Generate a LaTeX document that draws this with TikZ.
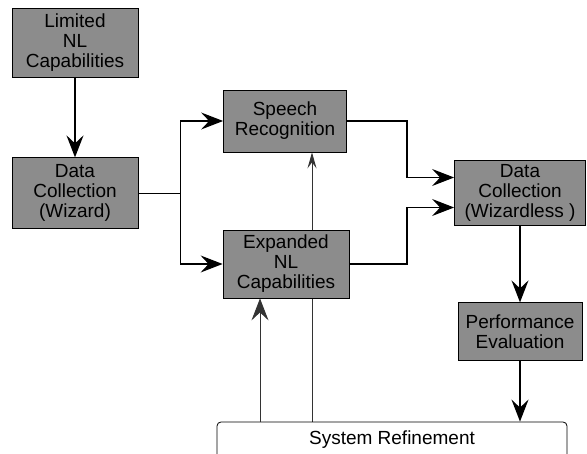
\documentclass[tikz,border=0pt]{standalone}
\usepackage{fontspec}
\setmainfont{Liberation Sans}
\usetikzlibrary{positioning,arrows.meta,backgrounds}

\begin{document}
\begin{tikzpicture}[x=1pt, y=-1pt, node distance=80pt,
  >={Stealth[length=22pt,width=17pt,inset=8pt]},
  block/.style={draw, rectangle, fill=black!45, align=center, inner sep=1pt, line width=0.8pt, font=\fontsize{19}{20}\selectfont},
  flow/.style={->, line width=1.2pt}]
\useasboundingbox (0,0) rectangle (587,454);
\clip (0,0) rectangle (587,454);

\node[block, minimum width=126pt, minimum height=69pt] (limited) at (75,42.5) {Limited\\NL\\Capabilities};
\node[block, minimum width=126pt, minimum height=71pt, below=of limited] (wizard) {Data\\Collection\\(Wizard)};
\node[block, minimum width=123pt, minimum height=62pt] (speech) at (285,121) {Speech\\Recognition};
\node[block, minimum width=126pt, minimum height=68pt] (expanded) at (286,264) {Expanded\\NL\\Capabilities};
\node[block, minimum width=131pt, minimum height=65pt] (wizardless) at (520,192.5) {Data\\Collection\\(Wizardless )};
\node[block, minimum width=124pt, minimum height=58pt, below=77pt of wizardless] (perf) {Performance\\Evaluation};
\node[draw, rounded corners=4pt, line width=0.8pt, minimum width=350pt, minimum height=36pt, font=\fontsize{19}{20}\selectfont] (refine) at (392,440) {System Refinement};

% wizard feeds both branches
\draw[flow, line width=1.8pt] (limited) -- (wizard);
\draw[line width=1.2pt] (wizard.east) -- ++(42,0) coordinate (split);
\draw[flow] (split) |- (speech.west);
\draw[flow] (split) |- (expanded.west);

% both branches into the wizardless collection
\coordinate (merge) at (407,192.5);
\draw[flow] (speech.east) -- (speech.east -| merge) |- ([yshift=15pt]wizardless.west);
\draw[flow] (expanded.east) -- (expanded.east -| merge) |- ([yshift=-15pt]wizardless.west);
\draw[flow, line width=1.8pt] (wizardless) -- (perf);
\draw[flow, line width=1.8pt] (perf.south) -- (perf.south |- refine.north);

% refinement loops back
\draw[flow, line width=0.9pt, black!80] ([xshift=-26pt]expanded.south |- refine.north) -- ([xshift=-26pt]expanded.south);
\begin{pgfonlayer}{background}
\draw[->, >={Stealth[length=16pt,width=9pt,inset=6pt]}, line width=0.9pt, black!80] ([xshift=27pt]speech.south |- refine.north) -- ([xshift=27pt]speech.south);
\end{pgfonlayer}
\end{tikzpicture}
\end{document}
